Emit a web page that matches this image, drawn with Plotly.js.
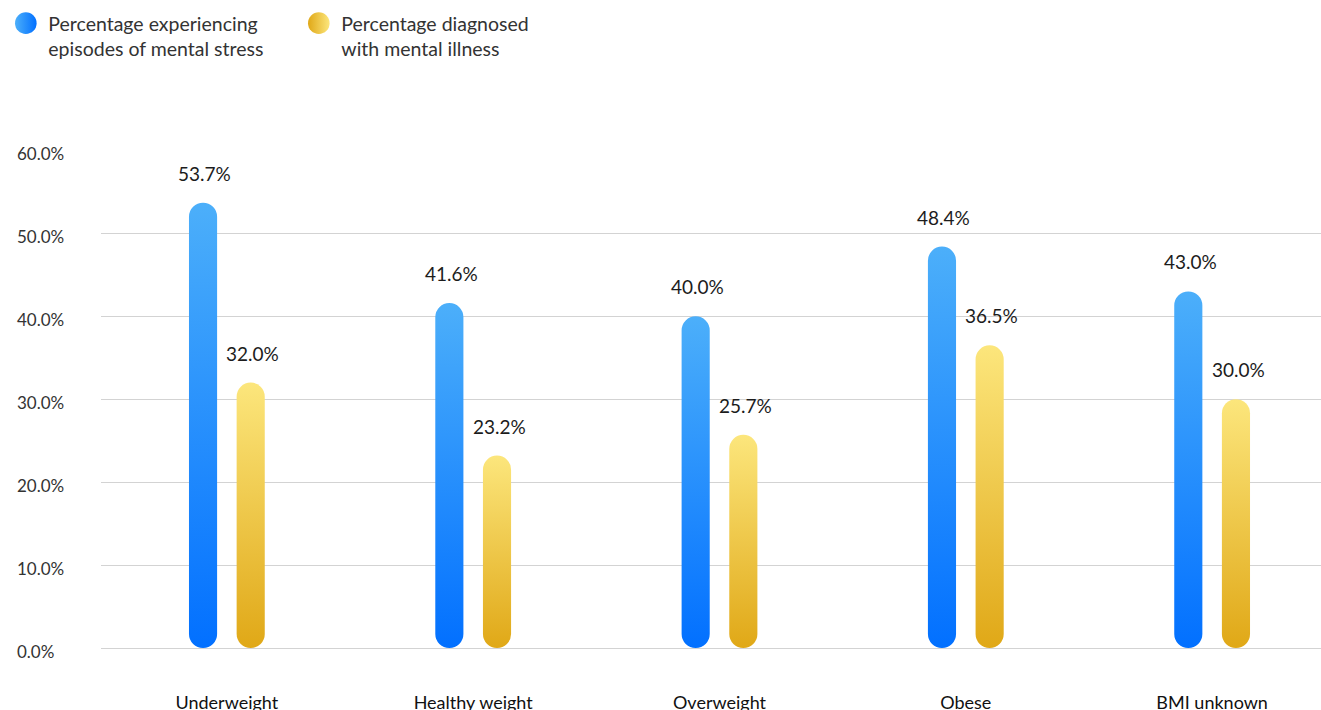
<!DOCTYPE html>
<html>
<head>
<meta charset="utf-8">
<script src="https://cdn.plot.ly/plotly-3.0.1.min.js"></script>
<style>
  html, body { margin: 0; padding: 0; background: #ffffff; }
  #chart { width: 1321px; height: 710px; }
</style>
</head>
<body>
<div id="chart"></div>
<script>
// BMI groups and the two measured shares (percent)
const categories = ['Underweight', 'Healthy weight', 'Overweight', 'Obese', 'BMI unknown'];
const stressPct = [53.7, 41.6, 40.0, 48.4, 43.0];
const illnessPct = [32.0, 23.2, 25.7, 36.5, 30.0];
const seriesNames = [
  'Percentage experiencing<br>episodes of mental stress',
  'Percentage diagnosed<br>with mental illness'
];
const yTickVals = [0, 10, 20, 30, 40, 50, 60];

const FONT = 'Lato, "Open Sans", sans-serif';
const fmt = v => v.toFixed(1) + '%';

// vertical gradients for the bars, horizontal ones for the legend dots
const gradients = {
  stressBar:   { dir: 'v', stops: ['#4caffa', '#0270ff'] },
  illnessBar:  { dir: 'v', stops: ['#fce67c', '#e0a817'] },
  stressDot:   { dir: 'h', stops: ['#4caffa', '#0270ff'] },
  illnessDot:  { dir: 'h', stops: ['#e0a817', '#fce67c'] }
};

const traces = [
  {
    type: 'bar', name: seriesNames[0], x: categories, y: stressPct,
    marker: { color: '#2a90fc', line: { width: 0 } },
    hoverinfo: 'skip'
  },
  {
    type: 'bar', name: seriesNames[1], x: categories, y: illnessPct,
    marker: { color: '#efc74a', line: { width: 0 } },
    hoverinfo: 'skip'
  }
];

// value labels above each bar
const BAR_OFFSET = 24;
const annotations = [];
categories.forEach((c, i) => {
  [[stressPct, -BAR_OFFSET], [illnessPct, BAR_OFFSET]].forEach(([arr, dx]) => {
    annotations.push({
      x: c, y: arr[i], xref: 'x', yref: 'y',
      text: fmt(arr[i]), showarrow: false,
      xanchor: 'center', yanchor: 'middle',
      xshift: dx + 2, yshift: 29.5,
      font: { family: FONT, size: 19, color: '#1c1c1c' }
    });
  });
});
// left-aligned y tick labels
yTickVals.forEach(v => {
  annotations.push({
    x: 0, y: v, xref: 'paper', yref: 'y',
    text: fmt(v), showarrow: false,
    xanchor: 'left', yanchor: 'middle',
    xshift: -86, yshift: -3,
    font: { family: FONT, size: 17, color: '#333333' }
  });
});

const layout = {
  width: 1321, height: 710,
  margin: { l: 101, r: 0, t: 150, b: 62 },
  paper_bgcolor: '#ffffff', plot_bgcolor: '#ffffff',
  font: { family: FONT, color: '#222222' },
  barmode: 'group', bargap: 0.613, bargroupgap: 0.41,
  hovermode: false,
  showlegend: true,
  legend: {
    orientation: 'h', xref: 'container', yref: 'container',
    x: 0.0063, y: 0.9944, xanchor: 'left', yanchor: 'top',
    valign: 'top', entrywidth: 248,
    font: { family: FONT, size: 19.5, color: '#333333' },
    bgcolor: 'rgba(0,0,0,0)', borderwidth: 0,
    itemclick: false, itemdoubleclick: false
  },
  xaxis: {
    type: 'category', range: [-0.511, 4.442],
    showgrid: false, zeroline: false, showline: false, ticks: '',
    ticklabelstandoff: 42,
    tickfont: { family: FONT, size: 18, color: '#111111' }
  },
  yaxis: {
    range: [0, 60.05], tickvals: yTickVals, showticklabels: false,
    showgrid: true, gridcolor: '#d3d3d3', gridwidth: 1,
    zeroline: true, zerolinecolor: '#d3d3d3', zerolinewidth: 1,
    showline: false, ticks: ''
  },
  annotations: annotations
};

function addGradients(gd) {
  const svg = gd.querySelector('svg.main-svg');
  const NS = 'http://www.w3.org/2000/svg';
  let defs = svg.querySelector('defs');
  if (!defs) { defs = document.createElementNS(NS, 'defs'); svg.insertBefore(defs, svg.firstChild); }
  Object.entries(gradients).forEach(([id, g]) => {
    if (defs.querySelector('#' + id)) return;
    const lg = document.createElementNS(NS, 'linearGradient');
    lg.setAttribute('id', id);
    lg.setAttribute('x1', '0'); lg.setAttribute('y1', '0');
    lg.setAttribute('x2', g.dir === 'h' ? '1' : '0');
    lg.setAttribute('y2', g.dir === 'v' ? '1' : '0');
    g.stops.forEach((col, k) => {
      const s = document.createElementNS(NS, 'stop');
      s.setAttribute('offset', k === 0 ? '0' : '1');
      s.setAttribute('stop-color', col);
      lg.appendChild(s);
    });
    defs.appendChild(lg);
  });
}

// turn each bar into a capsule filled with its series gradient
function styleBars(gd) {
  const barIds = ['stressBar', 'illnessBar'];
  gd.querySelectorAll('.barlayer .trace').forEach((tr, ti) => {
    tr.querySelectorAll('.point path').forEach(p => {
      const b = p.getBBox();
      if (!b.width || !b.height) return;
      const r = b.width / 2;
      const x = b.x, y = b.y, w = b.width, h = b.height;
      const d = `M${x},${y + r}A${r},${r} 0 0 1 ${x + w},${y + r}` +
                `V${y + h - r}A${r},${r} 0 0 1 ${x},${y + h - r}Z`;
      p.setAttribute('d', d);
      p.style.fill = `url(#${barIds[ti]})`;
    });
  });
  // legend swatches become round dots, nudged a little left of the default slot
  const dotIds = ['stressDot', 'illnessDot'];
  gd.querySelectorAll('.legend .traces').forEach((tr, ti) => {
    tr.querySelectorAll('.legendpoints path').forEach(p => {
      const t = p.getAttribute('transform') || '';
      p.setAttribute('transform', t + ' translate(-2.5,0)');
      p.setAttribute('d', 'M10.8,0A10.8,10.8 0 1,1 -10.8,0A10.8,10.8 0 1,1 10.8,0Z');
      p.style.fill = `url(#${dotIds[ti]})`;
      p.style.stroke = 'none';
    });
  });
}

const gd = document.getElementById('chart');
Plotly.newPlot(gd, traces, layout, { displayModeBar: false, staticPlot: true }).then(() => {
  addGradients(gd);
  styleBars(gd);
});
</script>
</body>
</html>
